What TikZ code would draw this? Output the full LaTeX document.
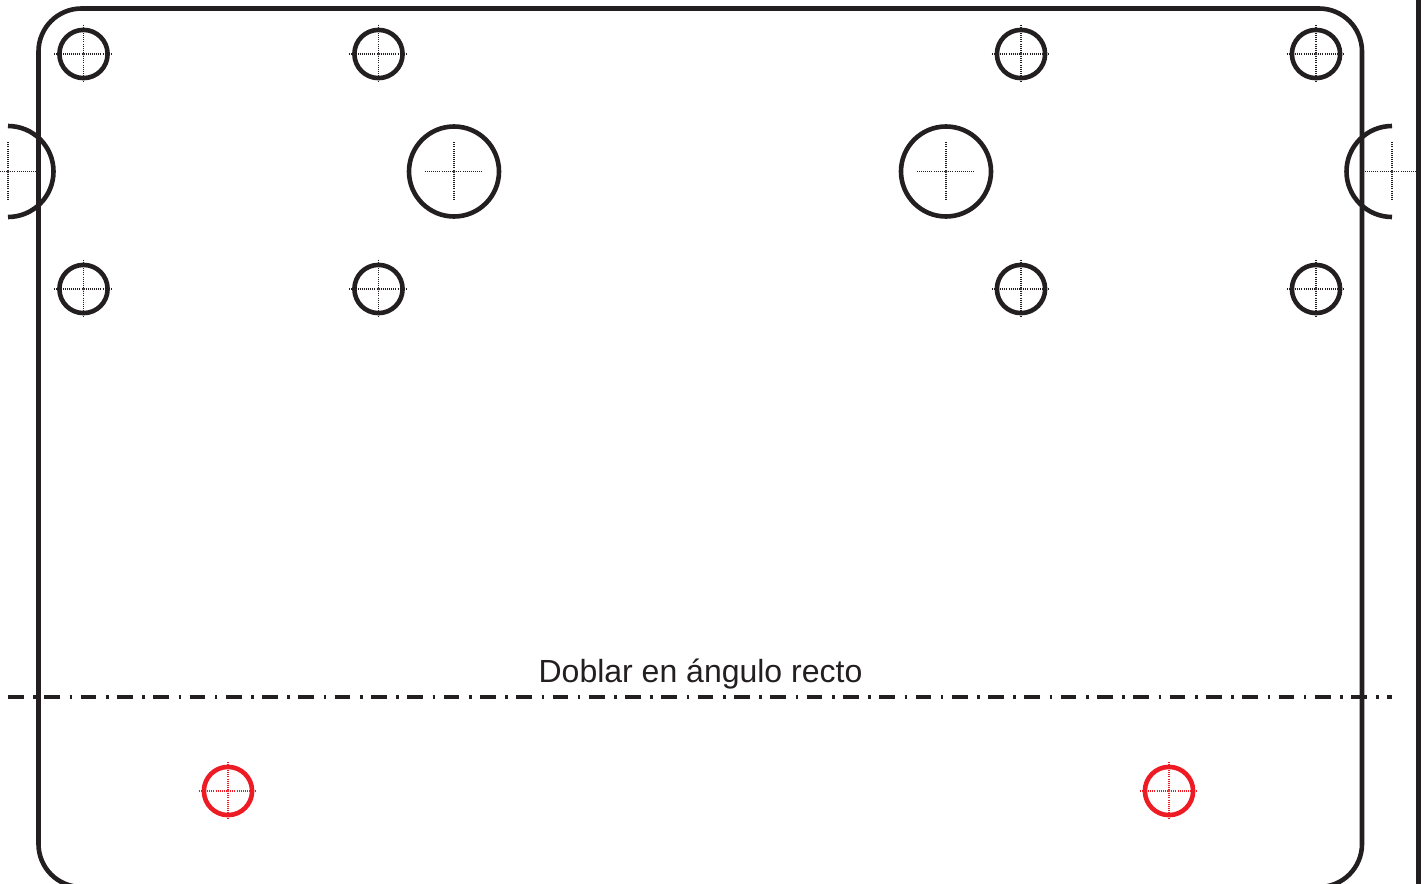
\documentclass[tikz,border=0pt]{standalone}
\usepackage{fontspec}
\setmainfont{Liberation Sans}
\definecolor{inkk}{HTML}{231F20}
\definecolor{redd}{HTML}{ED1C24}
\tikzset{
  outline/.style={line width=4.6pt,draw=inkk},
  holeline/.style={line width=4.6pt},
  crossline/.style={line width=1.1pt,dash pattern=on 1pt off 1.1pt},
  foldline/.style={line width=3.7pt,draw=inkk,dash pattern=on 15.7pt off 9.6pt on 2.6pt off 8.4pt},
}
\newcommand{\crossmark}[3]{%
  \draw[crossline,#3] (#1-29.3,#2) -- (#1+29.3,#2);
  \draw[crossline,#3] (#1,#2-29.3) -- (#1,#2+29.3);
  \draw[line width=.5pt,#3,fill=white] (#1,#2) circle (1);
}
\newcommand{\smallhole}[3]{%
  \draw[holeline,#3] (#1,#2) circle (24.1);
  \crossmark{#1}{#2}{#3}
}
\begin{document}
\begin{tikzpicture}[x=1pt,y=-1pt]
\useasboundingbox (0,0) rectangle (1426,883);
\clip (0,0) rectangle (1426,883);
\fill[white] (0,0) rectangle (1426,883);
% sheet outline
\draw[outline,rounded corners=43pt] (38.5,8.5) rectangle (1362,887);
\draw[outline] (1418.3,-5) -- (1418.3,890);
% small holes
\foreach \px in {83.5,378.5,1021,1316}{
  \foreach \py in {54,289}{
    \smallhole{\px}{\py}{inkk}
  }
}
% red holes
\smallhole{228}{791}{redd}
\smallhole{1169}{791}{redd}
% big holes
\draw[holeline,inkk] (454,171.5) circle (45);
\crossmark{454}{171.5}{inkk}
\draw[holeline,inkk] (946,171.5) circle (45);
\crossmark{946}{171.5}{inkk}
% half holes at the edges
\draw[holeline,inkk] (8,126) arc[start angle=-90,end angle=90,radius=45.5];
\crossmark{8}{171.5}{inkk}
\draw[holeline,inkk] (1392,126) arc[start angle=270,end angle=90,radius=45.5];
\crossmark{1392}{171.5}{inkk}
% fold line
\coordinate (foldL) at (8,696.7);
\coordinate (foldR) at (1392,696.7);
\draw[foldline] (foldL) -- (foldR);
\node[inner sep=0pt,anchor=base,font=\fontsize{32}{36}\selectfont,text=inkk] (foldlabel) at (700.5,682) {Doblar en ángulo recto};
\end{tikzpicture}
\end{document}
